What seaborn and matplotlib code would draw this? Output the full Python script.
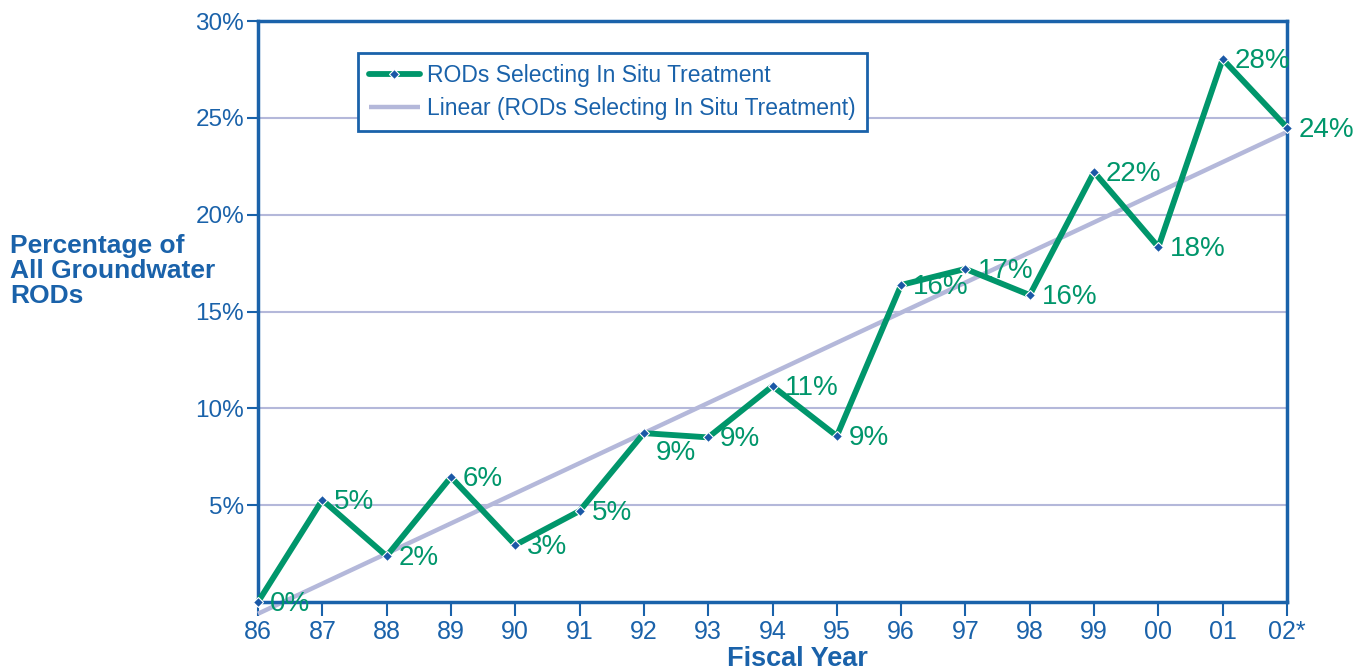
import numpy as np
import pandas as pd
import matplotlib
matplotlib.use("Agg")
import matplotlib.pyplot as plt
import seaborn as sns

# ---- data ----
years = ["86", "87", "88", "89", "90", "91", "92", "93", "94", "95",
         "96", "97", "98", "99", "00", "01", "02*"]
pct = [0.0, 5.27, 2.37, 6.45, 2.94, 4.70, 8.72, 8.50, 11.15, 8.57,
       16.37, 17.20, 15.85, 22.20, 18.33, 28.03, 24.50]
point_labels = ["0%", "5%", "2%", "6%", "3%", "5%", "9%", "9%", "11%", "9%",
                "16%", "17%", "16%", "22%", "18%", "28%", "24%"]
label_dy = [0, 0, 0, 0, 0, 0, -18, 0, 0, 0, 0, 0, 0, 0, 0, 0, 0]
y_ticks = [5, 10, 15, 20, 25, 30]
y_tick_labels = ["5%", "10%", "15%", "20%", "25%", "30%"]
series_name = "RODs Selecting In Situ Treatment"
trend_name = "Linear (RODs Selecting In Situ Treatment)"

BLUE = "#1A62AA"
GREEN = "#00966B"
LAV = "#B4B8DA"
MARK = "#1A58A6"

sns.set_style("white")
plt.rcParams["font.family"] = ["Liberation Sans", "DejaVu Sans"]

df = pd.DataFrame({"x": np.arange(len(years)), "pct": pct})

fig = plt.figure(figsize=(13.65, 6.72), dpi=100)
ax = fig.add_axes([258 / 1365, 70 / 672, 1029 / 1365, 581 / 672])

# gridlines
for yv in y_ticks[:-1]:
    ax.axhline(yv, color=LAV, lw=1.5, zorder=0)

# trend line (least squares fit of the series)
coef = np.polyfit(df["x"], df["pct"], 1)
trend = np.polyval(coef, df["x"])
ax.plot(df["x"], trend, color=LAV, lw=3.2, clip_on=False, zorder=2,
        label=trend_name, solid_capstyle="butt")

sns.lineplot(data=df, x="x", y="pct", ax=ax, color=GREEN, lw=4.2,
             marker="D", markersize=5, markerfacecolor=MARK,
             markeredgecolor="white", markeredgewidth=0.8,
             label=series_name, zorder=3, clip_on=False)

for xi, yi, lab, dy in zip(df["x"], df["pct"], point_labels, label_dy):
    ax.annotate(lab, (xi, yi), xytext=(12, -2 + dy), textcoords="offset pixels",
                ha="left", va="center", color=GREEN, fontsize=20,
                annotation_clip=False)

ax.set_xlim(0, len(years) - 1)
ax.set_ylim(0, 30)
ax.set_xticks(df["x"])
ax.set_xticklabels(years)
ax.set_yticks(y_ticks)
ax.set_yticklabels(y_tick_labels)
ax.tick_params(axis="x", direction="out", length=10, width=1.5, color=BLUE,
               labelcolor=BLUE, labelsize=18, pad=3, bottom=True)
ax.tick_params(axis="y", direction="out", length=8, width=1.5, color=BLUE,
               labelcolor=BLUE, labelsize=17.5, pad=2, left=True)
for s in ax.spines.values():
    s.set_color(BLUE)
    s.set_linewidth(2.5)
ax.set_xlabel("")
ax.set_ylabel("")

handles, labels = ax.get_legend_handles_labels()
order = [labels.index(series_name), labels.index(trend_name)]
leg = ax.legend([handles[i] for i in order], [labels[i] for i in order],
                loc="upper left", bbox_to_anchor=(0.097, 0.945),
                borderaxespad=0, fontsize=16.5, handlelength=2.2,
                handletextpad=0.3, labelspacing=0.42, borderpad=0.5,
                frameon=True, fancybox=False, framealpha=1)
leg.get_frame().set_edgecolor(BLUE)
leg.get_frame().set_linewidth(2)
for t in leg.get_texts():
    t.set_color(BLUE)

fig.text(10 / 1365, 1 - 271 / 672, "Percentage of\nAll Groundwater\nRODs",
         ha="left", va="center", color=BLUE, fontsize=19, fontweight="bold",
         linespacing=1.03)
fig.text(797 / 1365, 1 - 666 / 672, "Fiscal Year", ha="center", va="baseline",
         color=BLUE, fontsize=19.5, fontweight="bold")

fig.savefig("out.png", dpi=100)
